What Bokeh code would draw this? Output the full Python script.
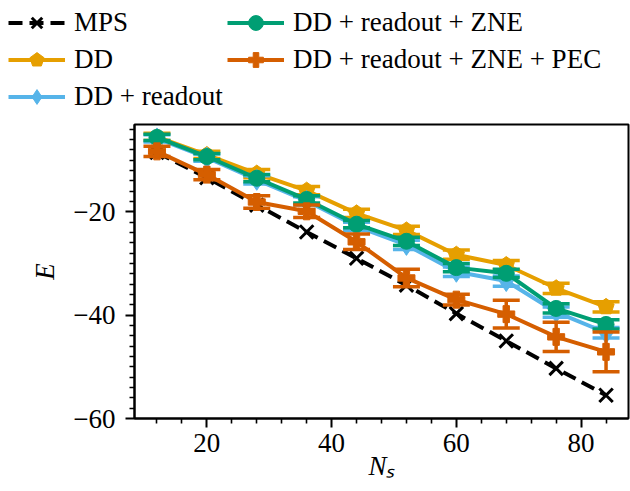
from bokeh.plotting import figure
from bokeh.models import Range1d, Legend, LegendItem
from bokeh.layouts import column
from bokeh.embed import file_html
from bokeh.resources import INLINE

# ---------------- data ----------------
N = [12, 20, 28, 36, 44, 52, 60, 68, 76, 84]
mps = [-8.5, -13.4, -18.7, -23.9, -29.0, -34.2, -39.7, -45.0, -50.3, -55.5]
dd = [-5.5, -9.0, -12.6, -15.9, -20.3, -23.6, -28.3, -30.3, -34.8, -38.4]
dd_err = [0.7, 0.7, 0.8, 0.8, 0.8, 0.8, 0.9, 0.9, 1.0, 1.0]
ro = [-5.8, -9.5, -13.8, -17.9, -22.8, -26.4, -31.6, -33.4, -39.4, -43.4]
ro_err = [0.7, 0.7, 0.8, 0.8, 0.8, 0.9, 0.9, 1.0, 1.0, 1.0]
zne = [-5.6, -9.3, -13.5, -17.6, -22.4, -25.7, -30.8, -31.9, -38.7, -41.8]
zne_err = [0.6, 0.6, 0.7, 0.7, 0.7, 0.8, 0.8, 0.8, 0.9, 0.9]
pec = [-8.3, -12.8, -18.1, -19.9, -25.8, -32.8, -37.0, -39.8, -44.2, -47.1]
pec_err = [1.0, 1.0, 1.2, 1.2, 1.5, 1.7, 1.05, 2.7, 2.85, 3.85]

labels = ["MPS", "DD", "DD + readout", "DD + readout + ZNE", "DD + readout + ZNE + PEC"]
colors = ["black", "#E69F00", "#56B4E9", "#009E73", "#D55E00"]
y_ticks = [-60, -40, -20]
y_tick_labels = ["\u221260", "\u221240", "\u221220"]
x_ticks = [20, 40, 60, 80]

FONT = "Liberation Serif"
FS = "27px"

# ---------------- main plot ----------------
p = figure(width=630, height=369, x_range=Range1d(8.4, 87.6), y_range=Range1d(-60, -3.1),
           output_backend="svg", toolbar_location=None,
           min_border_left=134, min_border_right=2, min_border_top=2, min_border_bottom=73)
p.grid.visible = False
p.outline_line_color = "black"
p.outline_line_width = 2
p.background_fill_color = "white"
p.border_fill_color = "white"

for ax in (p.xaxis[0], p.yaxis[0]):
    ax.axis_line_width = 2
    ax.axis_line_color = "black"
    ax.major_tick_line_width = 2
    ax.minor_tick_line_width = 1.6
    ax.major_tick_in = 0
    ax.major_tick_out = 9
    ax.minor_tick_in = 0
    ax.minor_tick_out = 5
    ax.major_label_text_font = FONT
    ax.major_label_text_font_size = FS
    ax.major_label_text_color = "black"
    ax.axis_label_text_font = FONT
    ax.axis_label_text_font_size = FS
    ax.axis_label_text_font_style = "italic"
    ax.axis_label_text_color = "black"

p.xaxis.ticker = x_ticks
p.xaxis.ticker.minor_ticks = [v for v in range(12, 88, 4) if v not in x_ticks]
p.yaxis.ticker = y_ticks
p.yaxis.ticker.minor_ticks = [v for v in range(-60, -3, 2) if v not in y_ticks]
p.yaxis.major_label_overrides = dict(zip(y_ticks, y_tick_labels))
p.xaxis.major_label_standoff = 6
p.yaxis.major_label_standoff = 10
p.xaxis.axis_label = "N\u209b"
p.xaxis.axis_label_standoff = -4
p.yaxis.axis_label = "E"
p.yaxis.axis_label_standoff = 10

series = [(dd, dd_err, "pent", 17), (ro, ro_err, "diamond", 21), (zne, zne_err, "circle", 16),
          (pec, pec_err, "plus", 17)]


def draw_marker(fig, x, y, mk, sz, c):
    if mk == "pent":
        try:
            return fig.ngon(x, y, radius=sz / 2.0, radius_units="screen", n=5,
                            fill_color=c, line_color=c, line_width=1)
        except Exception:
            mk = "hex"
    return fig.scatter(x, y, marker=mk, size=sz, fill_color=c, line_color=c, line_width=1)


def draw_all(fig, with_errors=True):
    """Draw every series; returns legend items."""
    items = []
    l0 = fig.line(N, mps, line_color="black", line_width=4, line_dash="14 7")
    m0 = fig.scatter(N, mps, marker="x", size=19, line_color="black", line_width=3)
    items.append(LegendItem(label=labels[0], renderers=[l0, m0]))
    for i, (vals, errs, mk, sz) in enumerate(series):
        c = colors[i + 1]
        rl = fig.line(N, vals, line_color=c, line_width=4)
        if with_errors:
            lo = [v - e for v, e in zip(vals, errs)]
            hi = [v + e for v, e in zip(vals, errs)]
            fig.segment(N, lo, N, hi, line_color=c, line_width=3.5)
            fig.scatter(N, lo, marker="dash", size=27, line_color=c, line_width=3.5)
            fig.scatter(N, hi, marker="dash", size=27, line_color=c, line_width=3.5)
        rm = draw_marker(fig, N, vals, mk, sz, c)
        items.append(LegendItem(label=labels[i + 1], renderers=[rl, rm]))
    return items


draw_all(p)

# ---------------- legend strip (its ranges keep the data out of view) ----------------
leg = figure(width=630, height=122, x_range=Range1d(200, 201), y_range=Range1d(200, 201),
             x_axis_type=None, y_axis_type=None, output_backend="svg", toolbar_location=None,
             min_border_left=0, min_border_right=0, min_border_top=0, min_border_bottom=0)
leg.grid.visible = False
leg.outline_line_color = None
leg.background_fill_color = "white"
leg.border_fill_color = "white"

for fig in (leg, p):
    try:
        fig.frame_align = False
    except Exception:
        pass

items = draw_all(leg, with_errors=False)


def mk_legend(its, loc):
    return Legend(items=its, location=loc, padding=0, margin=0, spacing=0,
                  glyph_width=57, glyph_height=37, label_standoff=9, label_height=37,
                  border_line_color=None, background_fill_alpha=0,
                  label_text_font=FONT, label_text_font_size=FS, label_text_color="black")


leg.add_layout(mk_legend(items[:3], (8, 7)), "center")
leg.add_layout(mk_legend(items[3:], (227, 44)), "center")

layout = column(leg, p, spacing=0)
open("out.html", "w").write(file_html(layout, INLINE))
